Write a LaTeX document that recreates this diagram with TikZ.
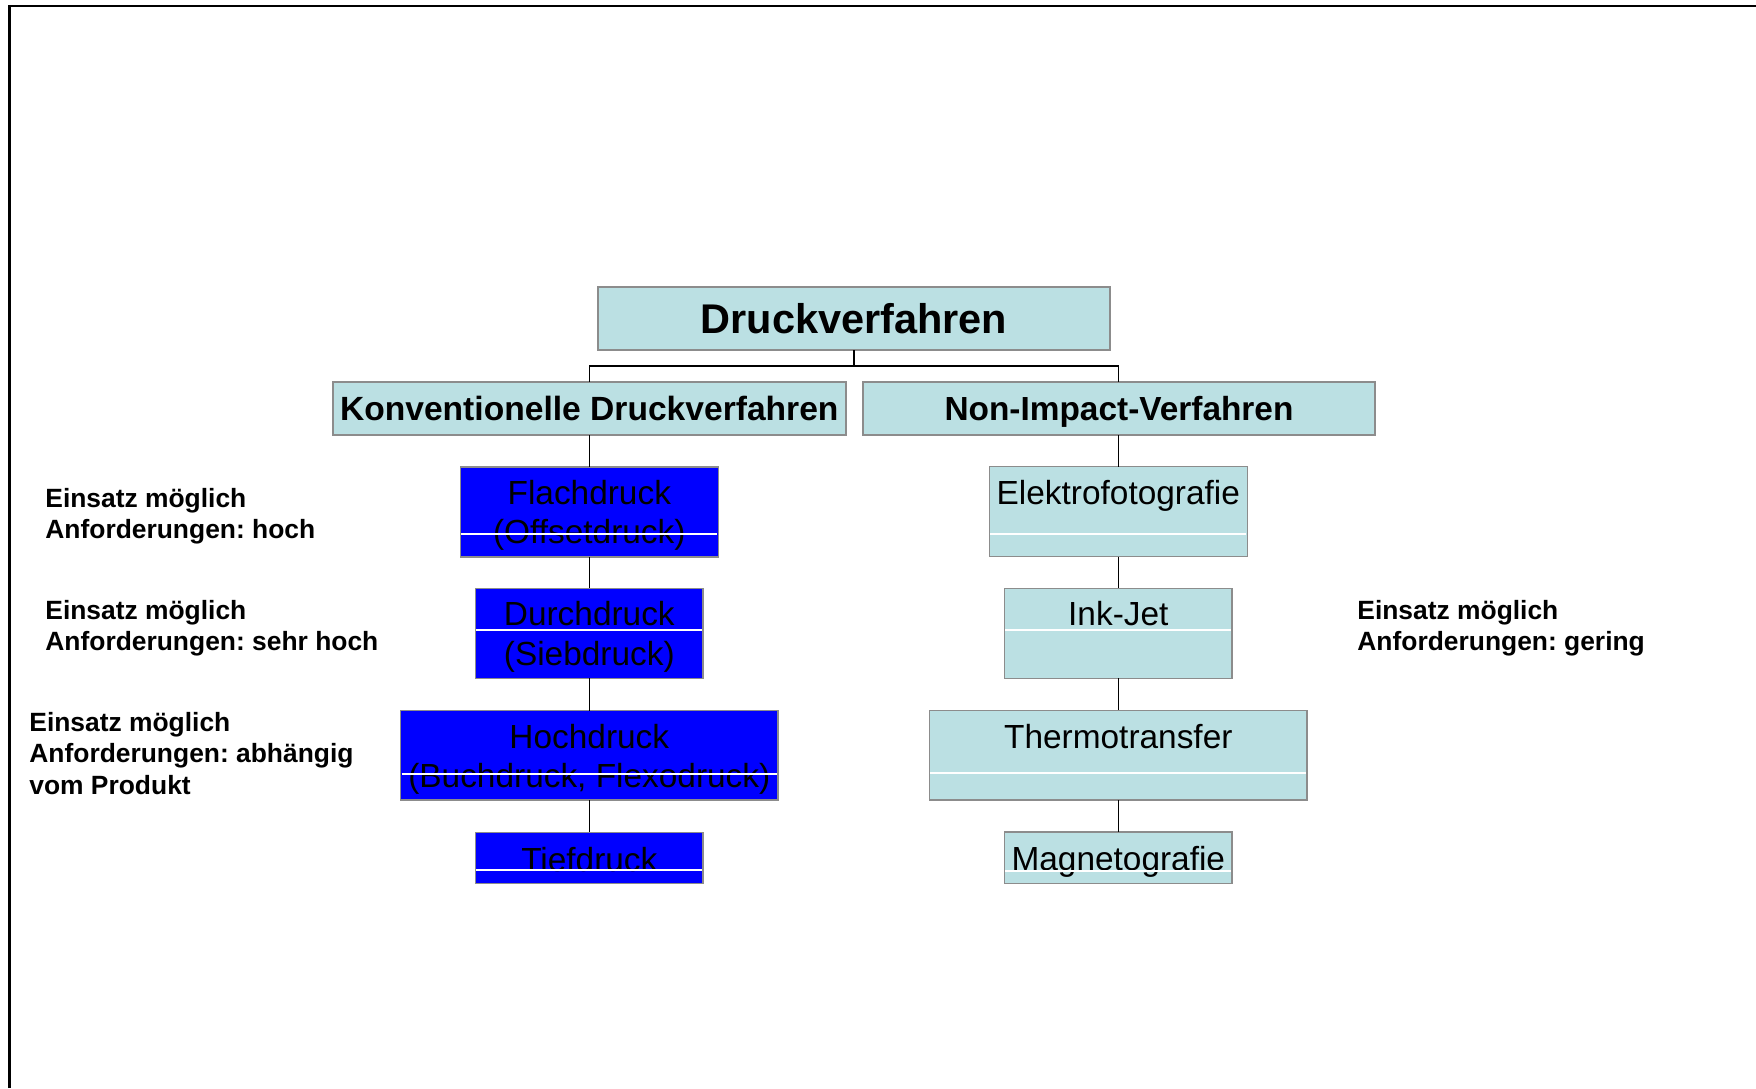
\documentclass[tikz,border=0pt]{standalone}
\usepackage{fontspec}
\setmainfont{Liberation Sans}
\frenchspacing
\definecolor{tealfill}{RGB}{187,224,227}
\definecolor{pblue}{RGB}{0,0,255}
\definecolor{bordergray}{RGB}{140,140,140}
\newcommand{\boxtext}[2]{\parbox[t]{#1}{\centering #2}}
\newcommand{\notetext}[1]{\parbox[t]{220pt}{\raggedright #1}}
\tikzset{
  box/.style={draw=bordergray, line width=0.75pt, inner sep=0pt, outer sep=0pt},
  tealbox/.style={box, fill=tealfill},
  bluebox/.style={box, fill=pblue},
  lvlthree/.style={font=\fontsize{16.7}{19.6}\selectfont},
  conn/.style={draw=black, line width=0.65pt},
  sepline/.style={draw=white, line width=0.6pt, shorten >=0.45pt, shorten <=0.45pt},
  note/.style={anchor=base west, inner sep=0pt, font=\bfseries\fontsize{13.2}{15.85}\selectfont},
}
\begin{document}
\begin{tikzpicture}[x=0.5pt, y=-0.5pt]
\useasboundingbox (0,0) rectangle (1756,1088);
\fill[white] (0,0) rectangle (1756,1088);
% frame
\draw[line width=1.15pt] (9.5,1088) -- (9.5,6) -- (1756,6);

% headings
\node[tealbox, font=\bfseries\fontsize{20.75}{24}\selectfont, minimum width=256pt, minimum height=31.5pt, text height=23pt, text depth=8.5pt] (top) at (854,318.5) {\boxtext{256pt}{Druckverfahren}};
\node[tealbox, font=\bfseries\fontsize{16.8}{19.5}\selectfont, minimum width=256.5pt, minimum height=26.5pt, text height=19.3pt, text depth=7.2pt] (konv) at (589.3,408.5) {\boxtext{256.5pt}{Konventionelle Druckverfahren}};
\node[tealbox, font=\bfseries\fontsize{16.7}{19.5}\selectfont, minimum width=256pt, minimum height=26.5pt, text height=19.3pt, text depth=7.2pt] (nonimp) at (1119,408.5) {\boxtext{256pt}{Non-Impact-Verfahren}};

% left column
\node[bluebox, lvlthree, minimum width=129pt, minimum height=45pt, text height=18.75pt, text depth=26.25pt] (flach) at (589.3,512) {\boxtext{129pt}{Flachdruck\\(Offsetdruck)}};
\node[bluebox, lvlthree, minimum width=113.8pt, minimum height=45pt, text height=18.75pt, text depth=26.25pt] (durch) at (589.3,633.3) {\boxtext{113.8pt}{Durchdruck\\(Siebdruck)}};
\node[bluebox, lvlthree, minimum width=188.6pt, minimum height=44.7pt, text height=18.9pt, text depth=25.8pt] (hoch) at (589.3,755.3) {\boxtext{188.6pt}{Hochdruck\\(Buchdruck, Flexodruck)}};
\node[bluebox, lvlthree, minimum width=113.8pt, minimum height=25.5pt, text height=19.4pt, text depth=6.1pt] (tief) at (589.3,857.8) {\boxtext{113.8pt}{Tiefdruck}};

% right column
\node[tealbox, lvlthree, minimum width=129pt, minimum height=45pt, text height=18.75pt, text depth=26.25pt] (elektro) at (1118.3,511.7) {\boxtext{129pt}{Elektrofotografie}};
\node[tealbox, lvlthree, minimum width=113.8pt, minimum height=45pt, text height=18.75pt, text depth=26.25pt] (inkjet) at (1118.3,633.3) {\boxtext{113.8pt}{Ink-Jet}};
\node[tealbox, lvlthree, minimum width=188.8pt, minimum height=44.8pt, text height=19pt, text depth=25.8pt] (thermo) at (1118.3,755.2) {\boxtext{188.8pt}{Thermotransfer}};
\node[tealbox, lvlthree, minimum width=113.8pt, minimum height=25.6pt, text height=19.4pt, text depth=6.2pt] (magneto) at (1118.3,857.7) {\boxtext{113.8pt}{Magnetografie}};

% white separator lines inside boxes
\draw[sepline] (flach.west |- 0,534) -- (flach.east |- 0,534);
\draw[sepline] (durch.west |- 0,630) -- (durch.east |- 0,630);
\draw[sepline] (hoch.west |- 0,774) -- (hoch.east |- 0,774);
\draw[sepline] (tief.west |- 0,870) -- (tief.east |- 0,870);
\draw[sepline] (elektro.west |- 0,534) -- (elektro.east |- 0,534);
\draw[sepline] (inkjet.west |- 0,630) -- (inkjet.east |- 0,630);
\draw[sepline] (thermo.west |- 0,773) -- (thermo.east |- 0,773);
\draw[sepline] (magneto.west |- 0,871) -- (magneto.east |- 0,871);

% connectors
\draw[conn] (top.south) -- (top.south |- 0,366) -| (konv.north);
\draw[conn] (top.south |- 0,366) -| (elektro.north |- nonimp.north);
\draw[conn] (konv.south) -- (flach.north);
\draw[conn] (flach.south) -- (durch.north);
\draw[conn] (durch.south) -- (hoch.north);
\draw[conn] (hoch.south) -- (tief.north);
\draw[conn] (elektro.north |- nonimp.south) -- (elektro.north);
\draw[conn] (elektro.south) -- (inkjet.north);
\draw[conn] (inkjet.south) -- (thermo.north);
\draw[conn] (thermo.south) -- (magneto.north);

% notes
\node[note] (note1) at (45,507) {\notetext{Einsatz möglich\\Anforderungen: hoch}};
\node[note] (note2) at (45,619) {\notetext{Einsatz möglich\\Anforderungen: sehr hoch}};
\node[note] (note3) at (29,731) {\notetext{Einsatz möglich\\Anforderungen: abhängig\\vom Produkt}};
\node[note] (note4) at (1357,619) {\notetext{Einsatz möglich\\Anforderungen: gering}};
\end{tikzpicture}
\end{document}
